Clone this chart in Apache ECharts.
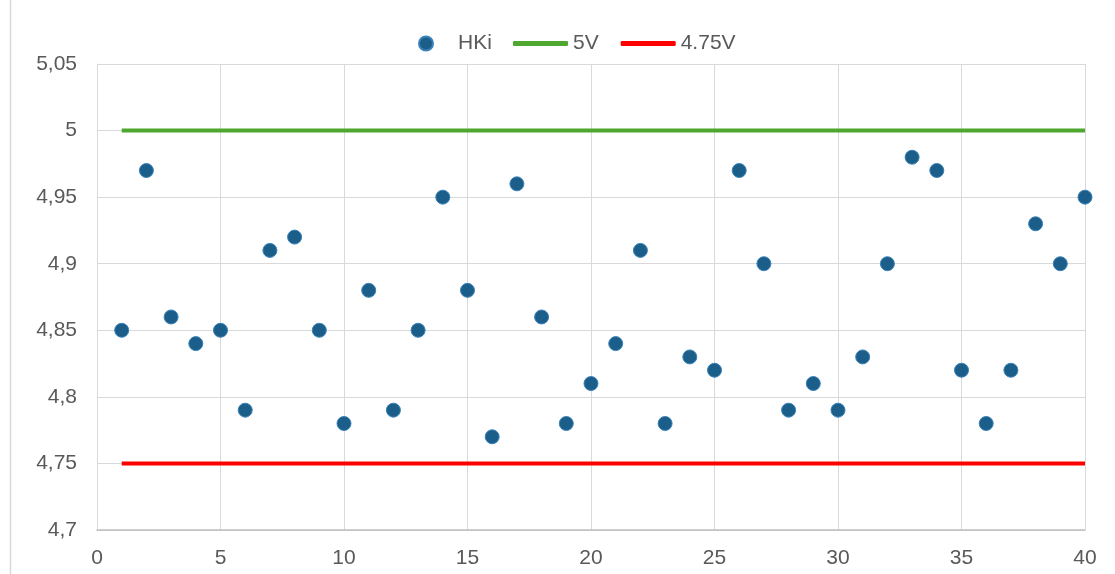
<!DOCTYPE html>
<html><head><meta charset="utf-8">
<script src="https://cdn.jsdelivr.net/npm/echarts@6/dist/echarts.min.js"></script>
<style>html,body{margin:0;padding:0;background:#fff}#c{width:1115px;height:574px}</style>
</head><body><div id="c"></div>
<script>
const xValues = [1,2,3,4,5,6,7,8,9,10,11,12,13,14,15,16,17,18,19,20,21,22,23,24,25,26,27,28,29,30,31,32,33,34,35,36,37,38,39,40];
const hki = [4.85,4.97,4.86,4.84,4.85,4.79,4.91,4.92,4.85,4.78,4.88,4.79,4.85,4.95,4.88,4.77,4.96,4.86,4.78,4.81,4.84,4.91,4.78,4.83,4.82,4.97,4.90,4.79,4.81,4.79,4.83,4.90,4.98,4.97,4.82,4.78,4.82,4.93,4.90,4.95];
const v5 = 5;
const v475 = 4.75;
const seriesNames = ['HKi','5V','4.75V'];

const chart = echarts.init(document.getElementById('c'));
const txt = '#595959';
const ff = 'Liberation Sans, Arial';
chart.setOption({
  animation: false,
  graphic: [{type:'line', shape:{x1:10.5,y1:0,x2:10.5,y2:574}, style:{stroke:'#d9d9d9',lineWidth:1.5}}],
  legend: [{
    top: 28, left: 413, padding: 5,
    textStyle: {color: txt, fontSize: 21, fontFamily: ff, padding: [0,0,0,20]},
    data: [{name: seriesNames[0], icon: 'circle'}],
    itemWidth: 14, itemHeight: 14
  }, {
    top: 28, left: 508, padding: 5, itemGap: 22,
    textStyle: {color: txt, fontSize: 21, fontFamily: ff},
    data: [{name: seriesNames[1], icon: 'roundRect'}, {name: seriesNames[2], icon: 'roundRect'}],
    itemWidth: 55, itemHeight: 5
  }],
  grid: {left: 97, right: 30, top: 64, bottom: 44, containLabel: false},
  xAxis: {
    type: 'value', min: 0, max: 40, interval: 5,
    axisLine: {show: true, lineStyle: {color: '#bfbfbf', width: 1.5}},
    axisTick: {show: false},
    axisLabel: {color: txt, fontSize: 21, fontFamily: ff, margin: 18},
    splitLine: {show: true, lineStyle: {color: '#d9d9d9', width: 1}}
  },
  yAxis: {
    type: 'value', min: 4.7, max: 5.05, interval: 0.05,
    axisLine: {show: true, lineStyle: {color: '#d9d9d9', width: 1}},
    axisTick: {show: false},
    axisLabel: {color: txt, fontSize: 21, fontFamily: ff, margin: 20,
      formatter: v => (+v.toFixed(2)).toString().replace('.', ',')},
    splitLine: {show: true, lineStyle: {color: '#d9d9d9', width: 1}}
  },
  series: [
    {name: seriesNames[0], type: 'scatter', symbolSize: 14,
      itemStyle: {color: '#1b5e8a', borderColor: '#3b82b8', borderWidth: 1, opacity: 1},
      data: xValues.map((x, i) => [x, hki[i]]), z: 5},
    {name: seriesNames[1], type: 'line', symbol: 'none',
      lineStyle: {color: '#4ea72e', width: 4}, itemStyle: {color: '#4ea72e'},
      data: xValues.map(x => [x, v5])},
    {name: seriesNames[2], type: 'line', symbol: 'none',
      lineStyle: {color: '#ff0000', width: 4}, itemStyle: {color: '#ff0000'},
      data: xValues.map(x => [x, v475])}
  ]
});
</script></body></html>
